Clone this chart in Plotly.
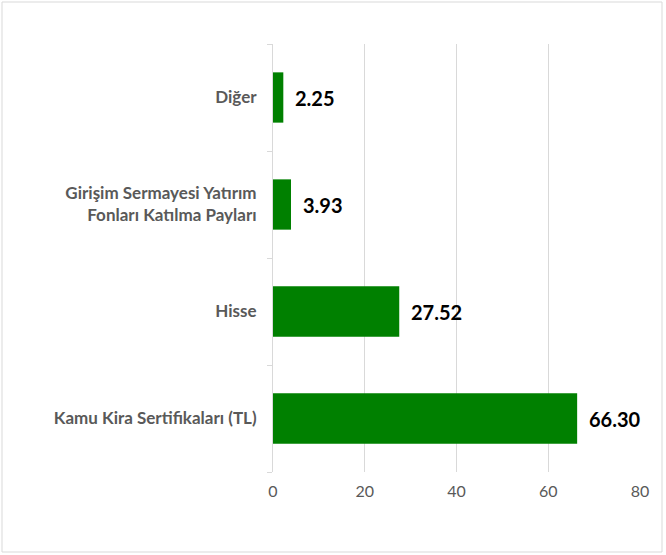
import plotly.graph_objects as go

categories = ["Kamu Kira Sertifikaları (TL)", "Hisse",
              "Girişim Sermayesi Yatırım<br>Fonları Katılma Payları", "Diğer"]
values = [66.30, 27.52, 3.93, 2.25]
x_ticks = [0, 20, 40, 60, 80]

FONT = "Lato, Carlito, Calibri, sans-serif"

fig = go.Figure()
fig.add_trace(go.Bar(
    y=categories, x=values, orientation="h",
    marker=dict(color="#008000", line=dict(width=0)),
    hoverinfo="skip",
))

for c, v in zip(categories, values):
    fig.add_annotation(x=v, y=c, text="<b>%.2f</b>" % v, showarrow=False,
                       xanchor="left", xshift=10,
                       font=dict(family=FONT, size=20, color="#000000"))

W, H = 666, 555
ml, mr, mt, mb = 273, 26, 44, 83
pw, ph = W - ml - mr, H - mt - mb

fig.add_shape(type="rect", xref="paper", yref="paper",
              x0=(2 - ml) / pw, x1=(662 - ml) / pw,
              y0=(ph + mt - 552) / ph, y1=(ph + mt - 2) / ph,
              line=dict(color="#d9d9d9", width=1), fillcolor="rgba(0,0,0,0)", layer="below")

fig.update_layout(
    width=W, height=H,
    margin=dict(l=ml, r=mr, t=mt, b=mb),
    paper_bgcolor="white", plot_bgcolor="white",
    bargap=0.53, showlegend=False,
    xaxis=dict(range=[0, 80], tickvals=x_ticks, showgrid=True, gridcolor="#d9d9d9",
               gridwidth=1, zeroline=False, showline=False,
               tickfont=dict(family=FONT, size=16, color="#595959"),
               ticklabelstandoff=8),
    yaxis=dict(showline=True, linecolor="#d9d9d9", linewidth=1,
               ticks="outside", ticklen=5, tickcolor="#d9d9d9", tickson="boundaries",
               showgrid=False, zeroline=False,
               tickfont=dict(family=FONT, size=17, color="#595959", weight="bold"),
               ticklabelstandoff=12),
)

fig.write_html("out.html", config={"displayModeBar": False},
               post_script="document.body.style.margin='0';")
